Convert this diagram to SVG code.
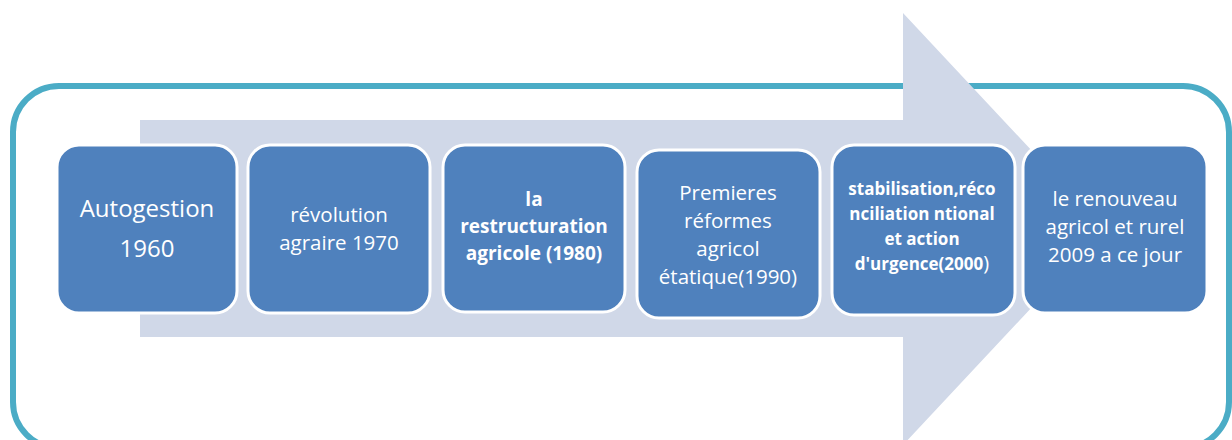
<svg xmlns="http://www.w3.org/2000/svg" width="1232" height="440" viewBox="0 0 1232 440">
<style>
.box{fill:#4F81BD;stroke:#FFFFFF;stroke-width:3}
.t{fill:#FFFFFF;font-family:"Open Sans","Liberation Sans",sans-serif;text-anchor:middle}
.b{font-weight:bold}
</style>
<rect x="0" y="0" width="1232" height="440" fill="#FFFFFF"/>
<g id="frame">
<rect x="13" y="86" width="1216" height="362" rx="46" ry="46" fill="none" stroke="#4BACC6" stroke-width="6"/>
</g>
<g id="connectors">
<polygon points="140,120 903,120 903,13 1105,229 903,445 903,337 140,337" fill="#D0D8E8"/>
</g>
<g id="n1">
<rect class="box" x="57" y="145" width="180" height="168" rx="22"/>
<text class="t" font-size="24" x="147" y="217">Autogestion</text>
<text class="t" font-size="24" x="147" y="257">1960</text>
</g>
<g id="n2">
<rect class="box" x="248" y="145" width="182" height="168" rx="22"/>
<text class="t" font-size="20.5" x="339" y="222">révolution</text>
<text class="t" font-size="20.5" x="339" y="250">agraire 1970</text>
</g>
<g id="n3">
<rect class="box" x="443" y="145" width="182" height="167" rx="22"/>
<text class="t b" font-size="19" x="534" y="206">la</text>
<text class="t b" font-size="19" x="534" y="233">restructuration</text>
<text class="t b" font-size="19" x="534" y="260">agricole (1980)</text>
</g>
<g id="n4">
<rect class="box" x="637" y="150" width="183" height="168" rx="22"/>
<text class="t" font-size="20.5" x="728" y="200">Premieres</text>
<text class="t" font-size="20.5" x="728" y="228">réformes</text>
<text class="t" font-size="20.5" x="728" y="256">agricol</text>
<text class="t" font-size="20.5" x="728" y="284">étatique(1990)</text>
</g>
<g id="n5">
<rect class="box" x="832" y="145" width="183" height="170" rx="22"/>
<text class="t b" font-size="17" x="922" y="195">stabilisation,réco</text>
<text class="t b" font-size="17" x="922" y="220">nciliation ntional</text>
<text class="t b" font-size="17" x="922" y="245">et action</text>
<text class="t b" font-size="17" x="922" y="270">d'urgence(2000<tspan font-weight="normal" font-size="20">)</tspan></text>
</g>
<g id="n6">
<rect class="box" x="1023" y="145" width="184" height="168" rx="22"/>
<text class="t" font-size="20.5" x="1115" y="206">le renouveau</text>
<text class="t" font-size="20.5" x="1115" y="234">agricol et rurel</text>
<text class="t" font-size="20.5" x="1115" y="262">2009 a ce jour</text>
</g>
</svg>
